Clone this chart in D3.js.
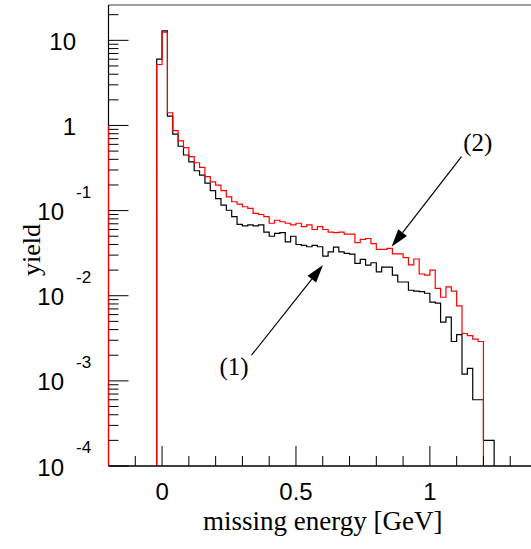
<!DOCTYPE html>
<html>
<head>
<meta charset="utf-8">
<script src="https://cdn.jsdelivr.net/npm/d3@7"></script>
<style>
  html, body { margin: 0; padding: 0; background: #fff; }
  svg { display: block; }
</style>
</head>
<body>
<div id="chart"></div>
<script>
// histogram binning (GeV)
const binStart = -0.02
const binWidth = 0.02

// (1) black histogram, one value per bin
const yieldBlack = [
  6.0, 12.9, 1.29, 0.79, 0.57, 0.45, 0.374, 0.294, 0.261, 0.210,
  0.172, 0.138, 0.116, 0.101, 0.085, 0.069, 0.066, 0.068, 0.066, 0.068,
  0.056, 0.050, 0.054, 0.055, 0.043, 0.050, 0.040, 0.039, 0.0376, 0.039,
  0.0376, 0.0292, 0.0328, 0.0373, 0.0328, 0.0314, 0.0308, 0.0240, 0.0267, 0.0229,
  0.0244, 0.0191, 0.0217, 0.0217, 0.0175, 0.0145, 0.0145, 0.0116, 0.0113, 0.0112,
  0.0107, 0.0084, 0.0082, 0.0049, 0.0056, 0.0029, 0.0035, 0.0012, 0.0014, 0.0006,
  0.0006, 0.0002, 0.0002
]

// (2) red histogram
const yieldRed = [
  5.2, 12.5, 1.41, 0.87, 0.66, 0.55, 0.43, 0.365, 0.322, 0.250,
  0.218, 0.199, 0.172, 0.145, 0.127, 0.119, 0.111, 0.106, 0.093, 0.090,
  0.085, 0.071, 0.077, 0.074, 0.071, 0.068, 0.071, 0.065, 0.068, 0.060,
  0.065, 0.060, 0.056, 0.055, 0.056, 0.053, 0.053, 0.042, 0.046, 0.047,
  0.041, 0.035, 0.035, 0.036, 0.031, 0.031, 0.028, 0.023, 0.027, 0.018,
  0.0175, 0.020, 0.0122, 0.0096, 0.0127, 0.0113, 0.0076, 0.0036, 0.0034, 0.0031,
  0.0029
]

// red edge drawn along the left frame (from yield 1 down to the floor)
const redEdge = [1, 1e-4]

const xDomain = [-0.2, 1.4]
const yDomain = [1e-4, 26]
const xMajorTicks = [0, 0.5, 1]
const xMinorStep = 0.1
const yDecades = [-4, -3, -2, -1, 0, 1]

const annotations = [
  { label: '(1)', from: [0.334, 0.0020], to: [0.601, 0.0229], text: [0.269, 0.00117] },
  { label: '(2)', from: [1.118, 0.43], to: [0.857, 0.0376], text: [1.179, 0.50] }
]

const width = 531
const height = 549
const frameL = 108.5
const frameR = 537
const frameT = 5
const frameB = 466

const svg = d3.select('#chart')
  .append('svg')
  .attr('width', width)
  .attr('height', height)

const x = d3.scaleLinear().domain(xDomain).range([frameL, frameR])
const y = d3.scaleLog().domain(yDomain).range([frameB, frameT]).clamp(true)

const sans = 'Liberation Sans, Arial, Helvetica, sans-serif'
const serif = 'Liberation Serif, Times New Roman, Times, serif'

// ── HISTOGRAMS ───────────────────────────────────────────────
function stepPoints (values) {
  const pts = [[binStart, yDomain[0]]]
  values.forEach((v, i) => {
    const x0 = binStart + i * binWidth
    pts.push([x0, v], [x0 + binWidth, v])
  })
  pts.push([binStart + values.length * binWidth, yDomain[0]])
  return pts
}

const line = d3.line().x(d => x(d[0])).y(d => y(d[1]))

const plot = svg.append('g')

plot.append('path')
  .attr('d', line(stepPoints(yieldBlack)))
  .attr('fill', 'none')
  .attr('stroke', '#000')
  .attr('stroke-width', 1.2)

plot.append('path')
  .attr('d', line(stepPoints(yieldRed)))
  .attr('fill', 'none')
  .attr('stroke', '#ff0000')
  .attr('stroke-width', 1.2)

// ── FRAME ────────────────────────────────────────────────────
const frame = svg.append('g')

frame.append('line')
  .attr('x1', frameL).attr('x2', frameR)
  .attr('y1', frameT).attr('y2', frameT)
  .attr('stroke', '#808080')
  .attr('stroke-width', 1.5)

frame.append('line')
  .attr('x1', frameL).attr('x2', frameL)
  .attr('y1', frameT).attr('y2', frameB)
  .attr('stroke', '#000')
  .attr('stroke-width', 1.2)

frame.append('line')
  .attr('x1', frameL).attr('x2', frameR)
  .attr('y1', frameB).attr('y2', frameB)
  .attr('stroke', '#000')
  .attr('stroke-width', 1.5)

frame.append('line')
  .attr('x1', x(xDomain[0])).attr('x2', x(xDomain[0]))
  .attr('y1', y(redEdge[0])).attr('y2', y(redEdge[1]))
  .attr('stroke', '#ff0000')
  .attr('stroke-width', 1.2)

// ── X AXIS ───────────────────────────────────────────────────
const xMinor = d3.range(Math.round((xDomain[1] - xDomain[0]) / xMinorStep) + 1)
  .map(i => +(xDomain[0] + i * xMinorStep).toFixed(2))
  .filter(v => v > xDomain[0] && !xMajorTicks.includes(v))

frame.selectAll('.xminor')
  .data(xMinor)
  .join('line')
  .attr('x1', d => x(d)).attr('x2', d => x(d))
  .attr('y1', frameB).attr('y2', frameB - 10)
  .attr('stroke', '#000')

frame.selectAll('.xmajor')
  .data(xMajorTicks)
  .join('line')
  .attr('x1', d => x(d)).attr('x2', d => x(d))
  .attr('y1', frameB).attr('y2', frameB - 20)
  .attr('stroke', '#000')

frame.selectAll('.xlabel')
  .data(xMajorTicks)
  .join('text')
  .attr('x', d => x(d))
  .attr('y', 500)
  .attr('text-anchor', 'middle')
  .attr('font-family', sans)
  .attr('font-size', 24)
  .text(d => d)

svg.append('text')
  .attr('x', (frameL + frameR) / 2)
  .attr('y', 530)
  .attr('text-anchor', 'middle')
  .attr('font-family', serif)
  .attr('font-size', 27)
  .text('missing energy [GeV]')

// ── Y AXIS ───────────────────────────────────────────────────
const yMinor = []
yDecades.forEach(d => {
  for (let m = 2; m <= 9; m++) {
    const v = m * Math.pow(10, d)
    if (v < yDomain[1]) yMinor.push(v)
  }
})

frame.selectAll('.yminor')
  .data(yMinor)
  .join('line')
  .attr('x1', frameL).attr('x2', frameL + 10)
  .attr('y1', d => y(d)).attr('y2', d => y(d))
  .attr('stroke', '#000')

frame.selectAll('.ymajor')
  .data(yDecades)
  .join('line')
  .attr('x1', frameL).attr('x2', frameL + 20)
  .attr('y1', d => y(Math.pow(10, d))).attr('y2', d => y(Math.pow(10, d)))
  .attr('stroke', '#000')

const yLabels = svg.append('g')
yDecades.forEach(d => {
  const ty = y(Math.pow(10, d))
  if (d >= 0) {
    yLabels.append('text')
      .attr('x', 76)
      .attr('y', ty + 9.5)
      .attr('text-anchor', 'end')
      .attr('font-family', sans)
      .attr('font-size', 24)
      .text(d === 0 ? '1' : '10')
  } else {
    yLabels.append('text')
      .attr('x', 64)
      .attr('y', ty + 9.5)
      .attr('text-anchor', 'end')
      .attr('font-family', sans)
      .attr('font-size', 24)
      .text('10')
    yLabels.append('text')
      .attr('x', 76)
      .attr('y', ty - 13)
      .attr('font-family', sans)
      .attr('font-size', 17)
      .text(String(d))
  }
})

svg.append('text')
  .attr('transform', `translate(40, 250) rotate(-90)`)
  .attr('text-anchor', 'middle')
  .attr('font-family', serif)
  .attr('font-size', 26)
  .text('yield')

// ── ANNOTATIONS ──────────────────────────────────────────────
const ann = svg.append('g')
annotations.forEach(a => {
  const x1 = x(a.from[0]), y1 = y(a.from[1])
  const x2 = x(a.to[0]), y2 = y(a.to[1])
  const ang = Math.atan2(y2 - y1, x2 - x1)
  const headLen = 18
  const halfW = 5.5
  const bx = x2 - headLen * Math.cos(ang)
  const by = y2 - headLen * Math.sin(ang)
  const px = -Math.sin(ang) * halfW
  const py = Math.cos(ang) * halfW

  ann.append('line')
    .attr('x1', x1).attr('y1', y1)
    .attr('x2', bx).attr('y2', by)
    .attr('stroke', '#000')
    .attr('stroke-width', 1.2)

  ann.append('path')
    .attr('d', `M${x2},${y2}L${bx + px},${by + py}L${bx - px},${by - py}Z`)
    .attr('fill', '#000')

  ann.append('text')
    .attr('x', x(a.text[0]))
    .attr('y', y(a.text[1]))
    .attr('text-anchor', 'middle')
    .attr('font-family', serif)
    .attr('font-size', 25)
    .text(a.label)
})
</script>
</body>
</html>
